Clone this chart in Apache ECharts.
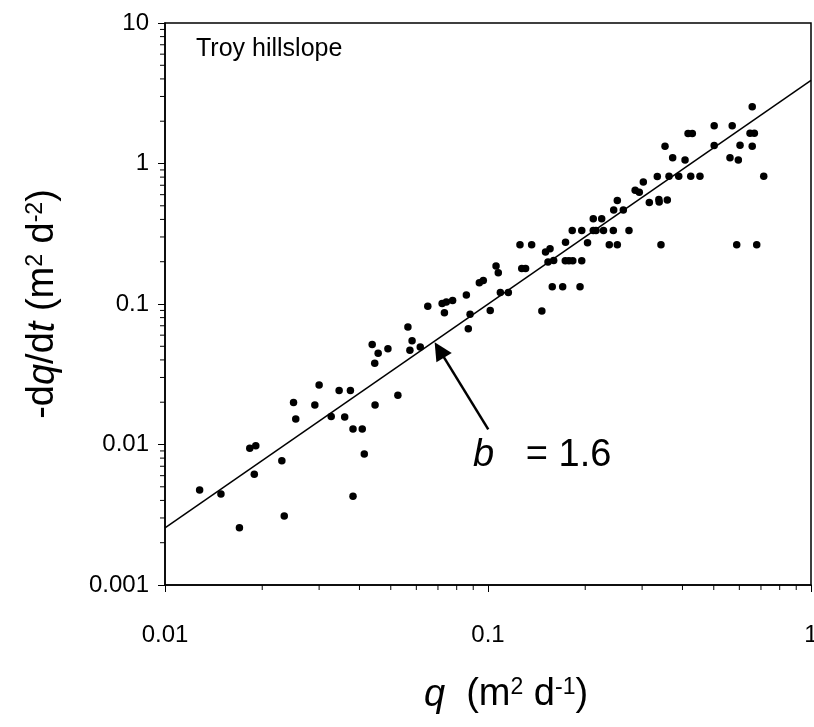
<!DOCTYPE html>
<html>
<head>
<meta charset="utf-8">
<script src="https://cdn.jsdelivr.net/npm/echarts@6/dist/echarts.min.js"></script>
<style>html,body{margin:0;padding:0;background:#fff;}#c{width:814px;height:727px;}</style>
</head>
<body>
<div id="c"></div>
<script>
// ---- data ----
const qValues = [0.0128,0.0149,0.0170,0.0189,0.0183,0.0191,0.0230,0.0234,0.0250,0.0254,
0.0291,0.0300,0.0327,0.0346,0.0375,0.0360,0.0382,0.0408,0.0414,0.0382,
0.0447,0.0438,0.0457,0.0446,0.0490,0.0526,0.0565,0.0582,0.0573,0.0617,
0.0651,0.0721,0.0743,0.0777,0.0733,0.0869,0.0880,0.0857,0.0940,0.0967,
0.1016,0.1059,0.1076,0.1092,0.1156,0.1256,0.1365,0.1272,0.1307,0.1468,
0.1507,0.1556,0.1534,0.1597,0.1581,0.1703,0.1927,0.1738,0.1823,0.1951,
0.1735,0.1781,0.1830,0.1951,0.2033,0.2118,0.2249,0.2118,0.2160,0.2278,
0.2443,0.2374,0.2514,0.2732,0.2450,0.2624,0.2514,0.3158,0.3388,0.3380,
0.3590,0.3432,0.2855,0.2940,0.3026,0.3343,0.3634,0.3895,0.4243,0.4531,
0.3730,0.4074,0.3532,0.4162,0.4291,0.5015,0.5015,0.5702,0.6029,0.5613,
0.5957,0.6577,0.6474,0.6677,0.6577,0.7140,0.5888,0.6791];
const dqdtValues = [0.00474,0.00444,0.00256,0.00614,0.00940,0.00980,0.00767,0.00310,0.0199,0.0152,
0.0191,0.0265,0.0158,0.0242,0.0242,0.0157,0.0129,0.0129,0.00856,0.00428,
0.0191,0.0515,0.0446,0.0378,0.0481,0.0224,0.0686,0.0548,0.0468,0.0494,
0.0963,0.1009,0.1033,0.1059,0.0867,0.0667,0.0845,0.1159,0.1419,0.1470,
0.0899,0.1864,0.1671,0.1208,0.1208,0.2643,0.2643,0.1790,0.1790,0.0891,
0.2344,0.2476,0.1991,0.2040,0.1328,0.1328,0.1328,0.2748,0.3334,0.3334,
0.2033,0.2033,0.2033,0.2033,0.2729,0.4046,0.4046,0.3334,0.3334,0.3334,
0.3334,0.2643,0.2643,0.3334,0.4667,0.4667,0.5455,0.5278,0.5321,0.5546,
0.5497,0.2643,0.6446,0.6237,0.7386,0.8083,0.8108,0.8108,0.8108,0.8108,
1.100,1.059,1.328,1.635,1.635,1.855,1.343,1.855,1.348,1.100,
1.059,2.533,1.641,1.641,1.328,0.812,0.2643,0.2643];
// fitted line end points (b = 1.6)
const fitQ = [0.01, 1];
const fitY = [0.00255, 3.9];
// axes
const xMin = 0.01, xMax = 1;
const yMin = 0.001, yMax = 10;
const xDecades = [0.01, 0.1];
const yDecades = [0.001, 0.01, 0.1, 1];
const minorMultipliers = [2,3,4,5,6,7,8,9];
const xTickLabels = {'0.01':'0.01','0.1':'0.1','1':'1'};
const yTickLabels = {'0.001':'0.001','0.01':'0.01','0.1':'0.1','1':'1','10':'10'};
// annotation (arrow tail -> head, label anchor)
const arrowFrom = [0.1002, 0.01282];
const arrowTo = [0.0707, 0.0471];
const bLabelAt = [0.0899, 0.00841];

const FONT = '"Liberation Sans", Arial, sans-serif';
const scatterData = qValues.map((q, i) => [q, dqdtValues[i]]);
const fitData = fitQ.map((q, i) => [q, fitY[i]]);
const xMinor = [];
xDecades.forEach(d => minorMultipliers.forEach(m => xMinor.push([+(d*m).toPrecision(3), yMin])));
const yMinor = [];
yDecades.forEach(d => minorMultipliers.forEach(m => yMinor.push([xMin, +(d*m).toPrecision(3)])));

function fmt(v){ return +(+v).toPrecision(6) + ''; }

const nameRich = {
  i: {fontStyle: 'italic', fontSize: 38, fontFamily: FONT, color: '#000'},
  s: {fontSize: 23, fontFamily: FONT, color: '#000', verticalAlign: 'top', lineHeight: 22}
};

const chart = echarts.init(document.getElementById('c'), null, {renderer:'canvas'});
chart.setOption({
  animation: false,
  backgroundColor: '#fff',
  title: {
    text: 'Troy hillslope', left: 191, top: 32,
    textStyle: {fontFamily: FONT, fontSize: 25, fontWeight: 'normal', color: '#000'}
  },
  grid: {left: 165, right: 3, top: 23, bottom: 142, show: true, borderColor: '#000', borderWidth: 1.5,
         containLabel: false, outerBoundsMode: 'none'},
  xAxis: {
    type: 'log', logBase: 10, min: xMin, max: xMax,
    axisLine: {show: true, lineStyle: {color: '#000', width: 1.5}},
    axisTick: {show: true, length: 7, inside: false, lineStyle: {color: '#000', width: 1}},
    splitLine: {show: false},
    axisLabel: {margin: 38, color: '#000', fontFamily: FONT, fontSize: 24, formatter: v => xTickLabels[fmt(v)] || fmt(v), showMaxLabel: true, showMinLabel: true},
    name: '{i|q}  (m{s|2} d{s|-1})', nameLocation: 'middle', nameGap: 91,
    nameTextStyle: {color: '#000', fontFamily: FONT, fontSize: 38, rich: nameRich, padding: [0, 0, 0, 36]}
  },
  yAxis: {
    type: 'log', logBase: 10, min: yMin, max: yMax,
    axisLine: {show: true, lineStyle: {color: '#000', width: 1.5}},
    axisTick: {show: true, length: 7, inside: false, lineStyle: {color: '#000', width: 1}},
    splitLine: {show: false},
    axisLabel: {margin: 16, color: '#000', fontFamily: FONT, fontSize: 24, formatter: v => yTickLabels[fmt(v)] || fmt(v)},
    name: '-d{i|q}/d{i|t} (m{s|2} d{s|-2})', nameLocation: 'middle', nameGap: 103,
    nameTextStyle: {color: '#000', fontFamily: FONT, fontSize: 38, rich: nameRich}
  },
  series: [
    {
      type: 'line', data: fitData, symbol: 'none', silent: true,
      lineStyle: {color: '#000', width: 1.5},
      markLine: {
        silent: true, symbol: ['none', 'triangle'], symbolSize: 18, label: {show: false},
        lineStyle: {color: '#000', width: 2.5, type: 'solid'},
        itemStyle: {color: '#000'},
        data: [[{coord: arrowFrom}, {coord: arrowTo}]]
      },
      markPoint: {
        symbol: 'circle', symbolSize: 0, silent: true,
        label: {show: true, position: 'right', distance: 0, color: '#000', fontFamily: FONT, fontSize: 38,
          formatter: '{i|b}   = 1.6',
          rich: {i: {fontStyle: 'italic', fontFamily: FONT, fontSize: 38, color: '#000'}}},
        data: [{coord: bLabelAt}]
      }
    },
    {
      type: 'scatter', data: scatterData, symbol: 'circle', symbolSize: 7.5,
      itemStyle: {color: '#000', opacity: 1}
    },
    {
      type: 'custom', data: xMinor, clip: false, silent: true,
      renderItem: (params, api) => {
        const p = api.coord([api.value(0), api.value(1)]);
        return {type: 'line', shape: {x1: p[0], y1: p[1], x2: p[0], y2: p[1] + 5}, style: {stroke: '#000', lineWidth: 1}};
      }
    },
    {
      type: 'custom', data: yMinor, clip: false, silent: true,
      renderItem: (params, api) => {
        const p = api.coord([api.value(0), api.value(1)]);
        return {type: 'line', shape: {x1: p[0] - 5, y1: p[1], x2: p[0], y2: p[1]}, style: {stroke: '#000', lineWidth: 1}};
      }
    }
  ]
});
</script>
</body>
</html>
